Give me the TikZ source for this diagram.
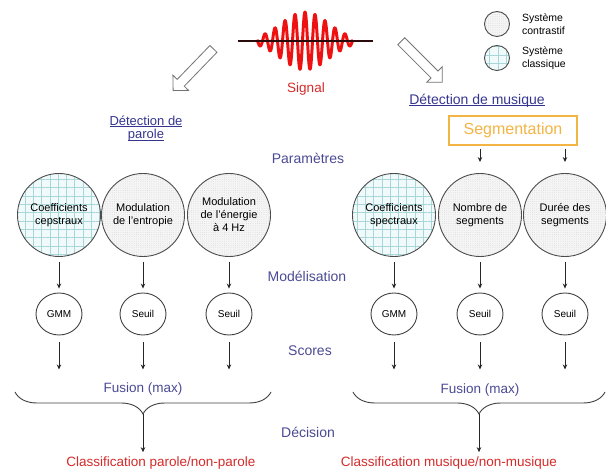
\documentclass[tikz,border=0pt]{standalone}
\usepackage{fontspec}
\setmainfont{Liberation Sans}
\usetikzlibrary{arrows.meta,positioning,shapes.arrows,shapes.geometric,patterns.meta,decorations.pathreplacing}

\definecolor{etape}{HTML}{4A4A94}
\definecolor{lien}{HTML}{35358F}
\definecolor{rouge}{HTML}{D42A2A}
\definecolor{onde}{HTML}{EE1111}
\definecolor{segor}{HTML}{F2B443}
\definecolor{grille}{HTML}{A9D6D9}
\definecolor{fondgrille}{HTML}{F0FAFA}
\definecolor{ligne}{HTML}{2A0A0A}

\newcommand{\souligne}[1]{\underline{\raisebox{0pt}[\height][0pt]{#1}}}

\tikzset{
  fleche/.style={-{Stealth[length=5pt,width=4.5pt]},line width=0.75pt,black!85},
  cercle/.style={circle,draw=black!70,line width=0.9pt,minimum size=83pt,inner sep=0pt,align=center,font=\fontsize{11}{13}\selectfont},
  contrastif/.style={cercle,preaction={fill=black!4},pattern={Dots[distance=2.2pt,radius=0.35pt]},pattern color=black!20},
  classique/.style={cercle,preaction={fill=fondgrille},pattern={Hatch[angle=0,distance=8.3pt,line width=0.6pt]},pattern color=grille},
  modele/.style={ellipse,draw=black!75,line width=0.9pt,minimum width=46pt,minimum height=42pt,inner sep=0pt,font=\fontsize{10}{12}\selectfont},
  etiquette/.style={text=etape,font=\fontsize{14}{16}\selectfont},
  resultat/.style={text=rouge,font=\fontsize{13.5}{15}\selectfont},
  creuse/.style={single arrow,draw=black!55,fill=white,line width=0.8pt,minimum height=58pt,inner sep=4.5pt,single arrow head extend=6pt},
  accolade/.style={decorate,decoration={brace,amplitude=22pt,mirror},line width=0.9pt,black!75},
}

\begin{document}
\begin{tikzpicture}[x=1pt,y=-1pt]
  \useasboundingbox (0,0) rectangle (606,470);

  % signal
  \coordinate (sig) at (305,41);
  \draw[onde,line width=3pt,line join=round] plot[domain=-48:48,samples=241,smooth] ({305+\x},{41-29*exp(-\x*\x/1150)*cos(36*\x)});
  \coordinate (sigg) at (238,41);
  \coordinate (sigd) at (373,41);
  \draw[ligne,line width=2pt] (sigg) -- (sigd);
  \node[resultat] (signal) at (306,89) {Signal};
  \node[creuse,rotate=226] (versparole) at (195,68) {};
  \node[creuse,rotate=-45] (versmusique) at (420,60) {};

  % legende
  \node[contrastif,minimum size=25pt] (legc) at (497,24) {};
  \node[classique,minimum size=25pt] (legk) at (497,58) {};
  \node[right=11pt of legc,inner sep=1pt,align=left,font=\fontsize{10.5}{13}\selectfont] (legct) {Système\\contrastif};
  \node[right=11pt of legk,inner sep=1pt,align=left,font=\fontsize{10.5}{13}\selectfont] (legkt) {Système\\classique};

  \node[text=lien,align=center,font=\fontsize{13}{13.5}\selectfont] (parole) at (146,128) {\souligne{Détection de}\\\souligne{parole}};
  \node[text=lien,font=\fontsize{14}{16}\selectfont] (musique) at (477,100) {\souligne{Détection de musique}};
  \node[draw=segor,line width=1.2pt,text=segor,font=\fontsize{16}{18}\selectfont,minimum width=128pt,minimum height=29pt] (seg) at (513,130.5) {Segmentation};

  \node[etiquette] (param) at (308,158) {Paramètres};
  \node[etiquette] (modelis) at (307,276) {Modélisation};
  \node[etiquette] (scores) at (310,351) {Scores};
  \node[etiquette] (decision) at (308,432) {Décision};

  % parametres
  \node[classique] (p1) at (59,215) {Coefficients\\cepstraux};
  \node[contrastif] (p2) at (143,215) {Modulation\\de l'entropie};
  \node[contrastif] (p3) at (229,215) {Modulation\\de l'énergie\\à 4 Hz};
  \node[classique] (m1) at (394,215) {Coefficients\\spectraux};
  \node[contrastif] (m2) at (480,215) {Nombre de\\segments};
  \node[contrastif] (m3) at (565,215) {Durée des\\segments};

  % modeles
  \node[modele] (gp1) at (59,314) {GMM};
  \node[modele] (gp2) at (143,314) {Seuil};
  \node[modele] (gp3) at (229,314) {Seuil};
  \node[modele] (gm1) at (394,314) {GMM};
  \node[modele] (gm2) at (480,314) {Seuil};
  \node[modele] (gm3) at (565,314) {Seuil};

  \draw[fleche,shorten <=3pt,shorten >=11pt] (seg.south -| m2) -- (m2.north);
  \draw[fleche,shorten <=3pt,shorten >=11pt] (seg.south -| m3) -- (m3.north);

  \foreach \n in {p1,p2,p3,m1,m2,m3}{
    \draw[fleche,shorten <=5pt,shorten >=4pt] (\n) -- (g\n);
    \path (g\n.south) ++(0,34) coordinate (s\n);
    \draw[fleche,shorten <=7pt] (g\n) -- (s\n);
  }

  % fusion
  \node[etiquette,font=\fontsize{13.5}{15}\selectfont] (fp) at (143,389) {Fusion (max)};
  \node[etiquette,font=\fontsize{13.5}{15}\selectfont] (fm) at (480,390) {Fusion (max)};
  \coordinate (bpg) at (15,392);
  \coordinate (bpd) at (271,392);
  \coordinate (bp) at (143,414);
  \coordinate (bmg) at (353,392);
  \coordinate (bmd) at (605,392);
  \coordinate (bm) at (479,414);
  \draw[accolade] (bpg) -- (bpd);
  \draw[accolade] (bmg) -- (bmd);

  \node[resultat] (clp) at (161,463) {Classification parole/non-parole};
  \node[resultat] (clm) at (449,463) {Classification musique/non-musique};
  \draw[fleche,shorten >=1pt] (bp) -- (bp |- clp.north);
  \draw[fleche,shorten >=1pt] (bm) -- (bm |- clm.north);
\end{tikzpicture}
\end{document}
